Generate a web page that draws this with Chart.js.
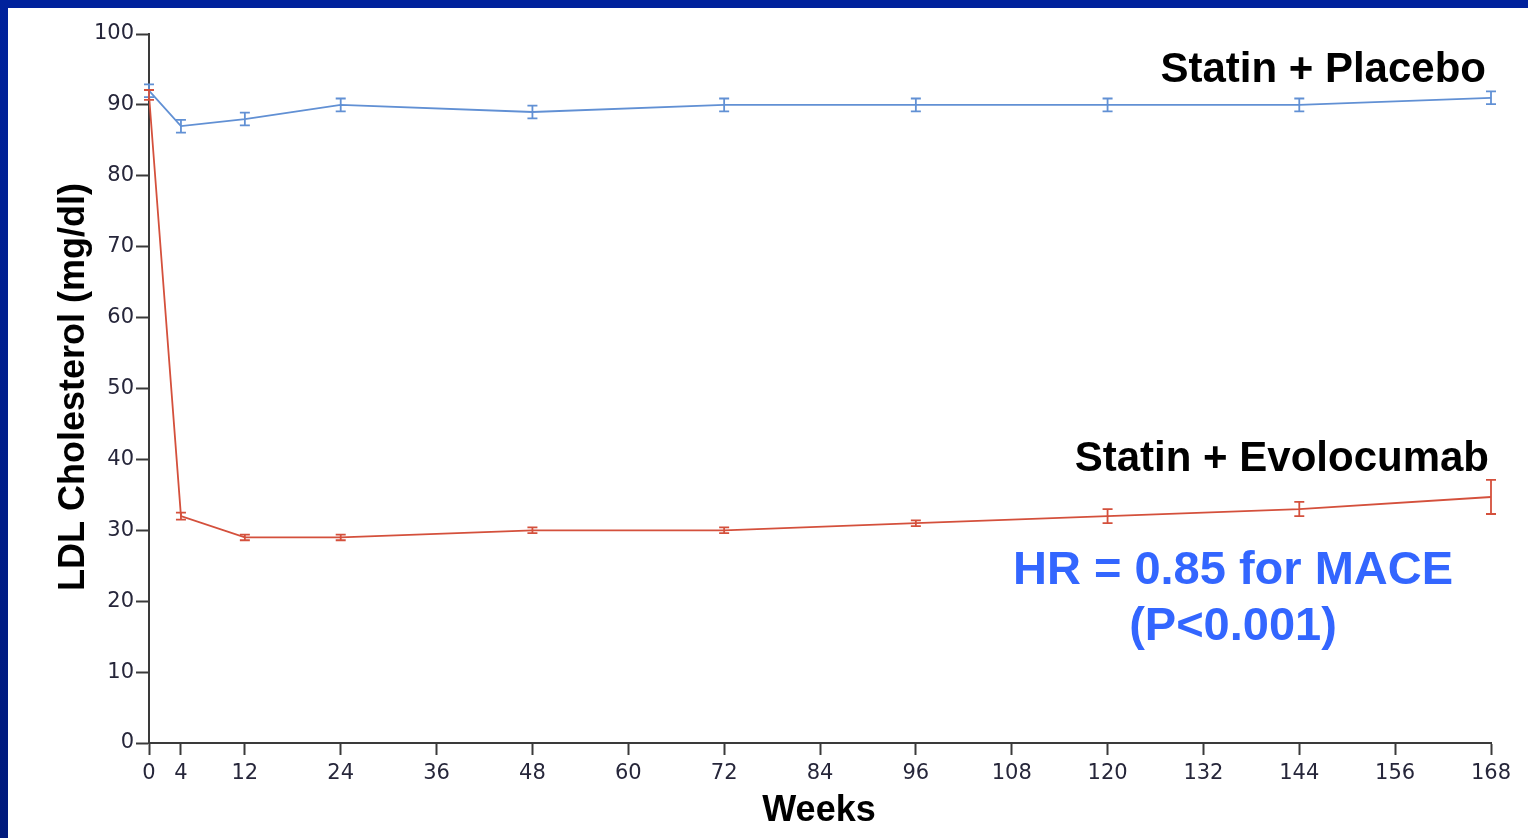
<!DOCTYPE html>
<html>
<head>
<meta charset="utf-8">
<script src="https://cdn.jsdelivr.net/npm/chart.js@4/dist/chart.umd.min.js"></script>
<style>
    html, body { margin: 0; padding: 0; background: #fff; }
    #wrap { position: relative; width: 1528px; height: 838px; }
</style>
</head>
<body>
<div id="wrap"><canvas id="grafico-ldl" width="1528" height="838"></canvas></div>
<script>
// dados
const semanas = [0, 4, 12, 24, 48, 72, 96, 120, 144, 168];
const ticksSemanas = [0, 4, 12, 24, 36, 48, 60, 72, 84, 96, 108, 120, 132, 144, 156, 168];
const placebo = [92, 87, 88, 90, 89, 90, 90, 90, 90, 91];
const placeboErro = [0.9, 0.9, 0.9, 0.9, 0.9, 0.9, 0.9, 0.9, 0.9, 0.9];
const evolocumab = [91.4, 32, 29, 29, 30, 30, 31, 32, 33, 34.7];
const evolocumabErro = [0.7, 0.5, 0.4, 0.4, 0.4, 0.4, 0.4, 1.0, 1.0, 2.4];

const corPlacebo = '#6190d4';
const corEvolocumab = '#d4503c';

function pontos(valores) {
    return semanas.map((s, i) => ({ x: s, y: valores[i] }));
}

// moldura azul + textos
const moldura = {
    id: 'moldura',
    beforeDraw(chart) {
        const ctx = chart.ctx;
        ctx.save();
        ctx.fillStyle = '#00229c';
        ctx.fillRect(0, 0, 1528, 8);
        const grad = ctx.createLinearGradient(0, 0, 0, 838);
        grad.addColorStop(0, '#00229c');
        grad.addColorStop(1, '#001a7c');
        ctx.fillStyle = grad;
        ctx.fillRect(0, 0, 8, 838);
        ctx.restore();
    },
    afterDraw(chart) {
        const ctx = chart.ctx;
        ctx.save();
        ctx.fillStyle = '#000';
        ctx.textBaseline = 'alphabetic';
        ctx.font = 'bold 42px "Liberation Sans", Arial, sans-serif';
        ctx.textAlign = 'right';
        ctx.fillText('Statin + Placebo', 1486, 82);
        ctx.fillText('Statin + Evolocumab', 1489, 471);

        ctx.fillStyle = '#3366ff';
        ctx.font = 'bold 47px "Liberation Sans", Arial, sans-serif';
        ctx.textAlign = 'center';
        ctx.fillText('HR = 0.85 for MACE', 1233, 584);
        ctx.fillText('(P<0.001)', 1233, 640);

        ctx.fillStyle = '#000';
        ctx.font = 'bold 36px "Liberation Sans", Arial, sans-serif';
        ctx.fillText('Weeks', 819, 821);

        ctx.translate(84, 387);
        ctx.rotate(-Math.PI / 2);
        ctx.fillText('LDL Cholesterol (mg/dl)', 0, 0);
        ctx.restore();
    }
};

// barras de erro
const barrasErro = {
    id: 'barrasErro',
    afterDatasetsDraw(chart) {
        const ctx = chart.ctx;
        const sx = chart.scales.x;
        const sy = chart.scales.y;
        ctx.save();
        chart.data.datasets.forEach(ds => {
            ctx.strokeStyle = ds.borderColor;
            ctx.lineWidth = 1.8;
            ds.data.forEach((p, i) => {
                const e = ds.erros[i];
                const x = sx.getPixelForValue(p.x);
                const y1 = sy.getPixelForValue(p.y + e);
                const y2 = sy.getPixelForValue(p.y - e);
                ctx.beginPath();
                ctx.moveTo(x, y1); ctx.lineTo(x, y2);
                ctx.moveTo(x - 5, y1); ctx.lineTo(x + 5, y1);
                ctx.moveTo(x - 5, y2); ctx.lineTo(x + 5, y2);
                ctx.stroke();
            });
        });
        ctx.restore();
    }
};

const fonteTicks = { family: '"DejaVu Sans", Verdana, sans-serif', size: 21 };

new Chart(document.getElementById('grafico-ldl').getContext('2d'), {
    type: 'line',
    data: {
        datasets: [
            {
                label: 'Statin + Placebo',
                data: pontos(placebo),
                erros: placeboErro,
                borderColor: corPlacebo,
                borderWidth: 1.8,
                pointRadius: 0,
                tension: 0
            },
            {
                label: 'Statin + Evolocumab',
                data: pontos(evolocumab),
                erros: evolocumabErro,
                borderColor: corEvolocumab,
                borderWidth: 1.8,
                pointRadius: 0,
                tension: 0
            }
        ]
    },
    options: {
        responsive: false,
        animation: false,
        layout: { padding: { top: 34, right: 37, left: 0, bottom: 0 } },
        plugins: {
            legend: { display: false },
            tooltip: { enabled: false }
        },
        scales: {
            x: {
                type: 'linear',
                min: 0,
                max: 168,
                afterBuildTicks(scale) {
                    scale.ticks = ticksSemanas.map(v => ({ value: v }));
                },
                afterFit(scale) { scale.height = 95; },
                grid: { drawOnChartArea: false, drawTicks: true, tickLength: 12, tickColor: '#3a3a3a', tickWidth: 2 },
                border: { color: '#3a3a3a', width: 2 },
                ticks: { font: fonteTicks, color: '#26263a', padding: 6, maxRotation: 0, autoSkip: false }
            },
            y: {
                min: 0,
                max: 100,
                afterFit(scale) { scale.width = 149; },
                grid: { drawOnChartArea: false, drawTicks: true, tickLength: 13, tickColor: '#3a3a3a', tickWidth: 2 },
                border: { color: '#3a3a3a', width: 2 },
                ticks: { stepSize: 10, font: fonteTicks, color: '#26263a', padding: 2 }
            }
        }
    },
    plugins: [moldura, barrasErro]
});
</script>
</body>
</html>
